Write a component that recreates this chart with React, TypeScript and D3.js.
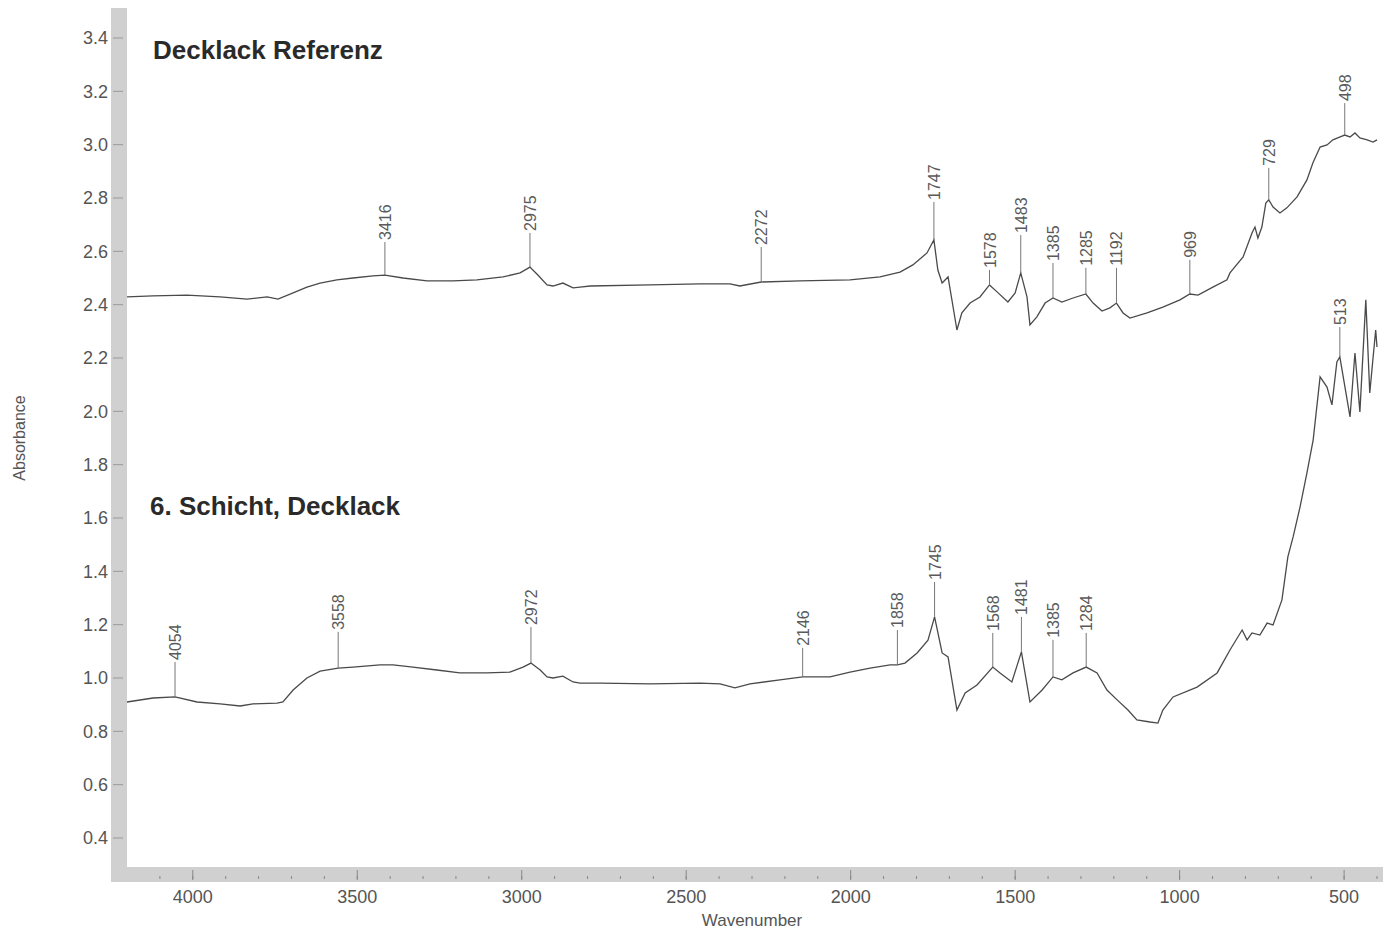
import React from "react";
import * as d3 from "d3";

// Spectrum 1: "Decklack Referenz" [wavenumber, absorbance]
const referenzSpectrum: [number, number][] = [
  [4200, 2.429], [4121, 2.433], [4018, 2.436], [3917, 2.429], [3835, 2.421],
  [3774, 2.429], [3741, 2.421], [3695, 2.444], [3653, 2.466], [3613, 2.481],
  [3562, 2.493], [3513, 2.5], [3452, 2.508], [3416, 2.511], [3361, 2.5],
  [3288, 2.489], [3209, 2.489], [3136, 2.493], [3057, 2.504], [3005, 2.519],
  [2975, 2.541], [2951, 2.511], [2923, 2.474], [2905, 2.47], [2875, 2.481],
  [2844, 2.463], [2823, 2.466], [2792, 2.47], [2610, 2.474], [2458, 2.478],
  [2367, 2.478], [2337, 2.47], [2272, 2.485], [2154, 2.489], [2002, 2.493],
  [1911, 2.504], [1850, 2.522], [1811, 2.549], [1768, 2.594], [1747, 2.643],
  [1735, 2.53], [1722, 2.481], [1704, 2.504], [1677, 2.305], [1662, 2.369],
  [1637, 2.406], [1607, 2.429], [1578, 2.474], [1555, 2.448], [1522, 2.41],
  [1500, 2.444], [1483, 2.519], [1464, 2.429], [1455, 2.324], [1434, 2.354],
  [1409, 2.406], [1385, 2.425], [1358, 2.41], [1324, 2.425], [1285, 2.44],
  [1263, 2.406], [1236, 2.376], [1212, 2.388], [1192, 2.406], [1172, 2.369],
  [1151, 2.35], [1099, 2.369], [1051, 2.391], [999, 2.418], [969, 2.44],
  [944, 2.436], [899, 2.466], [856, 2.493], [847, 2.519], [807, 2.579],
  [780, 2.669], [771, 2.691], [762, 2.65], [750, 2.691], [738, 2.781],
  [729, 2.793], [716, 2.766], [695, 2.744], [674, 2.763], [643, 2.804],
  [613, 2.868], [595, 2.931], [573, 2.991], [552, 2.999], [534, 3.018],
  [512, 3.029], [498, 3.036], [482, 3.029], [467, 3.044], [452, 3.025],
  [430, 3.018], [412, 3.01], [400, 3.018],
];

// Spectrum 2: "6. Schicht, Decklack"
const schichtSpectrum: [number, number][] = [
  [4200, 0.91], [4121, 0.925], [4054, 0.929], [3987, 0.91], [3917, 0.903],
  [3856, 0.895], [3817, 0.903], [3744, 0.906], [3726, 0.91], [3695, 0.955],
  [3653, 1.0], [3613, 1.026], [3558, 1.037], [3513, 1.041], [3431, 1.049],
  [3391, 1.049], [3331, 1.041], [3258, 1.03], [3188, 1.019], [3106, 1.019],
  [3036, 1.022], [2996, 1.041], [2972, 1.056], [2944, 1.03], [2923, 1.004],
  [2905, 1.0], [2875, 1.007], [2844, 0.985], [2823, 0.981], [2762, 0.981],
  [2610, 0.978], [2458, 0.981], [2397, 0.978], [2352, 0.963], [2306, 0.978],
  [2215, 0.993], [2146, 1.004], [2063, 1.004], [2002, 1.022], [1941, 1.037],
  [1880, 1.049], [1858, 1.049], [1835, 1.056], [1798, 1.094], [1765, 1.142],
  [1745, 1.229], [1722, 1.094], [1704, 1.079], [1677, 0.88], [1652, 0.944],
  [1616, 0.974], [1568, 1.041], [1546, 1.019], [1510, 0.985], [1481, 1.098],
  [1455, 0.91], [1418, 0.955], [1385, 1.004], [1358, 0.993], [1324, 1.019],
  [1284, 1.041], [1251, 1.019], [1221, 0.955], [1190, 0.918], [1157, 0.88],
  [1130, 0.843], [1090, 0.835], [1066, 0.831], [1051, 0.88], [1020, 0.929],
  [947, 0.966], [886, 1.019], [847, 1.105], [810, 1.18], [795, 1.143],
  [780, 1.169], [756, 1.161], [734, 1.206], [716, 1.199], [689, 1.293],
  [671, 1.454], [655, 1.529], [634, 1.641], [613, 1.769], [594, 1.893],
  [573, 2.129], [552, 2.091], [537, 2.024], [522, 2.185], [513, 2.204],
  [482, 1.979], [467, 2.219], [452, 1.998], [434, 2.418], [422, 2.069],
  [404, 2.305], [400, 2.241],
];

// peak labels: [wavenumber, peak absorbance, absorbance where label text starts]
const referenzPeaks: [number, number, number][] = [
  [3416, 2.511, 2.635], [2975, 2.541, 2.669], [2272, 2.485, 2.616],
  [1747, 2.643, 2.785], [1578, 2.474, 2.53], [1483, 2.519, 2.661],
  [1385, 2.425, 2.556], [1285, 2.44, 2.538], [1192, 2.406, 2.538],
  [969, 2.44, 2.568], [729, 2.793, 2.913], [498, 3.036, 3.156],
];

const schichtPeaks: [number, number, number][] = [
  [4054, 0.929, 1.06], [3558, 1.037, 1.173], [2972, 1.056, 1.191],
  [2146, 1.004, 1.113], [1858, 1.049, 1.18], [1745, 1.229, 1.36],
  [1568, 1.041, 1.169], [1481, 1.098, 1.229], [1385, 1.004, 1.143],
  [1284, 1.041, 1.169], [513, 2.204, 2.316],
];

const spectrumTitles = ["Decklack Referenz", "6. Schicht, Decklack"];
const titleAbsorbance = [3.32, 1.61];

const yTicks = d3.range(0.4, 3.41, 0.2);
const xTicks = [4000, 3500, 3000, 2500, 2000, 1500, 1000, 500];
const xMinorTicks = d3.range(4100, 399, -100);

const W = 1383;
const H = 929;
const FONT = "'Liberation Sans', Arial, sans-serif";

export default function App() {
  const x = d3.scaleLinear().domain([4200, 400]).range([127, 1377]);
  const y = d3.scaleLinear().domain([3.4, 0.4]).range([38, 838]);

  const plotLeft = 127;
  const plotBottom = 867;
  const barW = 16;

  const line = d3
    .line<[number, number]>()
    .x((d) => x(d[0]))
    .y((d) => y(d[1]));

  const peakMarks = (peaks: [number, number, number][], key: string) =>
    peaks.map(([wn, a, la]) => (
      <g key={key + wn}>
        <line
          x1={x(wn)}
          x2={x(wn)}
          y1={y(a)}
          y2={y(la)}
          stroke="#777"
          strokeWidth={1}
        />
        <text
          transform={`translate(${x(wn) + 6},${y(la) - 2}) rotate(-90)`}
          fontSize={16}
          fill="#5a5a5a"
          fontFamily={FONT}
        >
          {wn}
        </text>
      </g>
    ));

  return (
    <div style={{ position: "absolute", left: 0, top: 0, background: "#fff" }}>
      <svg width={W} height={H} style={{ display: "block" }}>
        <rect width={W} height={H} fill="#fff" />

        {/* gray frame */}
        <rect x={plotLeft - barW} y={8} width={barW} height={plotBottom + 15 - 8} fill="#d0d0d0" />
        <rect x={plotLeft - barW} y={plotBottom} width={W - plotLeft + barW} height={15} fill="#d0d0d0" />

        {/* y axis */}
        {yTicks.map((t) => (
          <g key={"y" + t}>
            <line x1={113} x2={123} y1={y(t)} y2={y(t)} stroke="#999" strokeWidth={1} />
            <text
              x={108}
              y={y(t)}
              dy="0.35em"
              textAnchor="end"
              fontSize={18}
              fill="#555"
              fontFamily={FONT}
            >
              {d3.format(".1f")(t)}
            </text>
          </g>
        ))}
        <text
          transform={`translate(25,${438}) rotate(-90)`}
          textAnchor="middle"
          fontSize={16}
          fill="#555"
          fontFamily={FONT}
        >
          Absorbance
        </text>

        {/* x axis */}
        {xMinorTicks.map((t) => (
          <line key={"m" + t} x1={x(t)} x2={x(t)} y1={plotBottom + 9} y2={plotBottom + 12} stroke="#888" strokeWidth={1} />
        ))}
        {xTicks.map((t) => (
          <g key={"x" + t}>
            <line x1={x(t)} x2={x(t)} y1={plotBottom + 3} y2={plotBottom + 13} stroke="#888" strokeWidth={1} />
            <text
              x={x(t)}
              y={903}
              textAnchor="middle"
              fontSize={18}
              fill="#555"
              fontFamily={FONT}
            >
              {t}
            </text>
          </g>
        ))}
        <text x={752} y={926} textAnchor="middle" fontSize={17} fill="#555" fontFamily={FONT}>
          Wavenumber
        </text>

        {/* spectra */}
        <path d={line(referenzSpectrum) ?? ""} fill="none" stroke="#4a4a4a" strokeWidth={1.3} />
        <path d={line(schichtSpectrum) ?? ""} fill="none" stroke="#4a4a4a" strokeWidth={1.3} />

        {peakMarks(referenzPeaks, "r")}
        {peakMarks(schichtPeaks, "s")}

        {/* titles */}
        {spectrumTitles.map((t, i) => (
          <text
            key={t}
            x={i === 0 ? 153 : 150}
            y={y(titleAbsorbance[i])}
            fontSize={26}
            fontWeight="bold"
            fill="#2a2a2a"
            fontFamily={FONT}
          >
            {t}
          </text>
        ))}
      </svg>
    </div>
  );
}
